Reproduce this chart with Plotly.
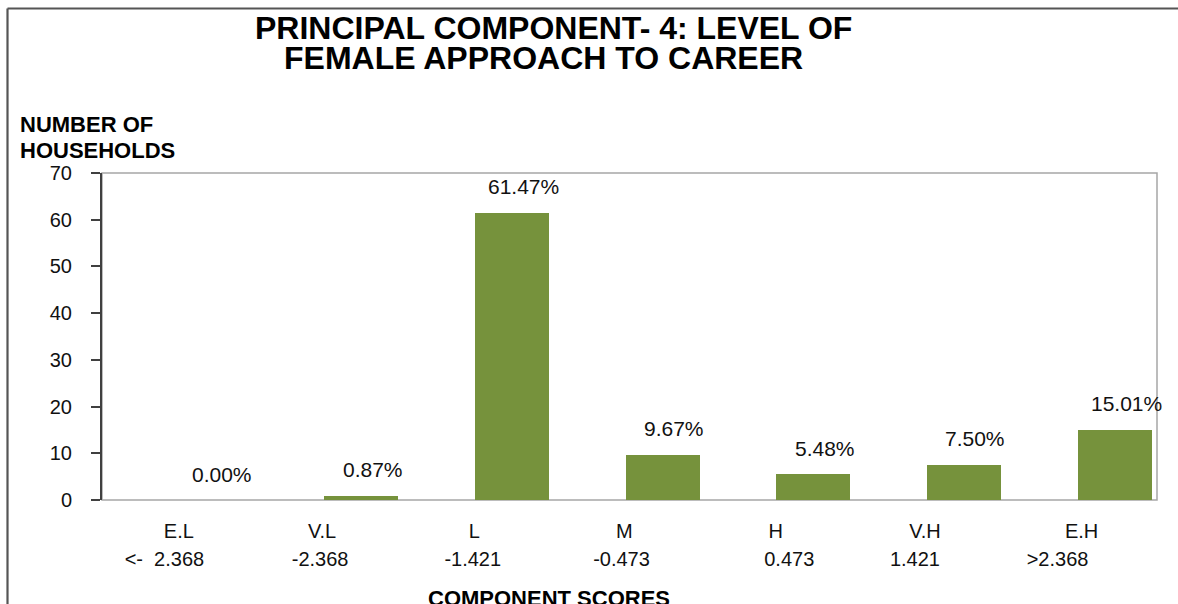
import plotly.graph_objects as go

# ---- data ----
categories = ["E.L", "V.L", "L", "M", "H", "V.H", "E.H"]
score_labels = ["&lt;-  2.368", "-2.368", "-1.421", "-0.473", "0.473", "1.421", "&gt;2.368"]
households_pct = [0.00, 0.87, 61.47, 9.67, 5.48, 7.50, 15.01]
value_labels = ["0.00%", "0.87%", "61.47%", "9.67%", "5.48%", "7.50%", "15.01%"]
y_ticks = [0, 10, 20, 30, 40, 50, 60, 70]

# label placement nudges (category units) to mimic the original's text alignment
cat_label_nudge = [0.01, -0.04, -0.03, -0.035, -0.03, -0.04, 0.0]
score_label_nudge = [-0.086, -0.053, -0.04, -0.053, 0.06, -0.106, -0.16]

W, H = 1178, 604
ML, MR, MT, MB = 102, 21, 173, 104
PH = H - MT - MB
PW = W - ML - MR
FONT = "Liberation Sans, Arial, sans-serif"
BAR = "#76923c"
TXT = "#111111"

def py(px):  # pixel y -> paper y
    return (H - MB - px) / PH

def pxx(px):  # pixel x -> paper x
    return (px - ML) / PW

pos = list(range(len(categories)))

fig = go.Figure()
fig.add_trace(go.Bar(
    x=pos, y=households_pct, width=0.49, offset=-0.025,
    marker=dict(color=BAR, line=dict(width=0)),
    hoverinfo="skip", showlegend=False,
))
# invisible companion trace so the second (score) axis is drawn
fig.add_trace(go.Scatter(
    x=pos, y=households_pct, xaxis="x2", mode="markers",
    marker=dict(opacity=0), hoverinfo="skip", showlegend=False,
))

annotations = []
for xi, v, lab in zip(pos, households_pct, value_labels):
    annotations.append(dict(
        x=xi + 0.295, y=v, xref="x", yref="y", text=lab, showarrow=False,
        yshift=26, yanchor="middle", xanchor="center",
        font=dict(family=FONT, size=21, color=TXT),
    ))

# title lines
annotations.append(dict(x=pxx(553), y=py(28), xref="paper", yref="paper",
                        text="<b>PRINCIPAL COMPONENT- 4: LEVEL OF</b>", showarrow=False,
                        xanchor="center", yanchor="middle",
                        font=dict(family=FONT, size=32, color="#000000")))
annotations.append(dict(x=pxx(543), y=py(58.5), xref="paper", yref="paper",
                        text="<b>FEMALE APPROACH TO CAREER</b>", showarrow=False,
                        xanchor="center", yanchor="middle",
                        font=dict(family=FONT, size=32, color="#000000")))
# y-axis title
annotations.append(dict(x=pxx(18), y=py(124.5), xref="paper", yref="paper",
                        text="<b>NUMBER OF</b>", showarrow=False,
                        xanchor="left", yanchor="middle",
                        font=dict(family=FONT, size=22, color="#000000")))
annotations.append(dict(x=pxx(18), y=py(150.5), xref="paper", yref="paper",
                        text="<b>HOUSEHOLDS</b>", showarrow=False,
                        xanchor="left", yanchor="middle",
                        font=dict(family=FONT, size=22, color="#000000")))
# x-axis title (cut at the bottom edge like the reference)
annotations.append(dict(x=pxx(549), y=py(598.5), xref="paper", yref="paper",
                        text="<b>COMPONENT SCORES</b>", showarrow=False,
                        xanchor="center", yanchor="middle",
                        font=dict(family=FONT, size=22, color="#000000")))

shapes = [
    # plot frame (grey)
    dict(type="rect", xref="paper", yref="paper", x0=0, x1=1, y0=0, y1=1,
         line=dict(color="#a6a6a6", width=1.5), layer="below"),
    # outer chart border (top and left)
    dict(type="line", xref="paper", yref="paper", x0=pxx(7.5), x1=pxx(1180),
         y0=py(8.5), y1=py(8.5), line=dict(color="#555555", width=2.2)),
    dict(type="line", xref="paper", yref="paper", x0=pxx(7.5), x1=pxx(7.5),
         y0=py(8.5), y1=py(610), line=dict(color="#555555", width=2.2)),
]

fig.update_layout(
    width=W, height=H,
    margin=dict(l=ML, r=MR, t=MT, b=MB, pad=0),
    paper_bgcolor="#ffffff", plot_bgcolor="#ffffff",
    bargap=0, showlegend=False,
    annotations=annotations, shapes=shapes,
    xaxis=dict(
        range=[-0.5, 6.5], tickmode="array",
        tickvals=[p + d for p, d in zip(pos, cat_label_nudge)], ticktext=categories,
        ticks="", showgrid=False, zeroline=False, showline=False,
        tickfont=dict(family=FONT, size=20, color=TXT),
        ticklabelstandoff=17, fixedrange=True,
    ),
    xaxis2=dict(
        range=[-0.5, 6.5], overlaying="x", anchor="y", side="bottom",
        tickmode="array",
        tickvals=[p + d for p, d in zip(pos, score_label_nudge)], ticktext=score_labels,
        ticks="", showgrid=False, zeroline=False, showline=False,
        tickfont=dict(family=FONT, size=20, color=TXT),
        ticklabelstandoff=45, fixedrange=True,
    ),
    yaxis=dict(
        range=[0, 70], tickmode="array", tickvals=y_ticks,
        ticks="outside", ticklen=9, tickwidth=1.5, tickcolor="#404040",
        showline=True, linecolor="#404040", linewidth=2,
        showgrid=False, zeroline=False,
        tickfont=dict(family=FONT, size=20, color=TXT),
        ticklabelstandoff=15, fixedrange=True,
    ),
)

fig.write_html(
    "out.html",
    config={"displayModeBar": False},
    post_script="document.body.style.margin='0';document.body.style.overflow='hidden';",
)
